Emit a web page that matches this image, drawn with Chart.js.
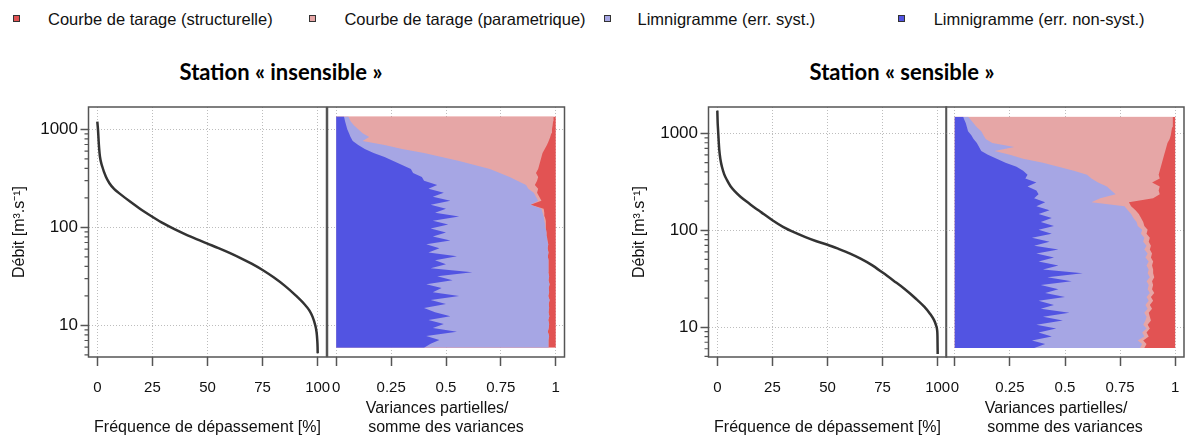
<!DOCTYPE html>
<html lang="fr">
<head>
<meta charset="utf-8">
<title>Variances partielles</title>
<script src="https://cdn.jsdelivr.net/npm/chart.js@4.4.1/dist/chart.umd.min.js"></script>
<style>
  html, body { margin: 0; padding: 0; background: #fff; }
  body { position: relative; width: 1188px; height: 439px; overflow: hidden; font-family: "Liberation Sans", Arial, sans-serif; color: #111; }
  canvas { position: absolute; top: 90px; }
  .key { position: absolute; top: 8.6px; font-size: 16.5px; line-height: 20px; white-space: nowrap; }
  .key span { position: absolute; top: 6px; width: 5px; height: 5px; border: 1px solid #333; }
  .station { position: absolute; top: 59.4px; width: 300px; text-align: center; font: bold 22px/26px Lato, "Open Sans", sans-serif; color: #000; }
</style>
</head>
<body>
<div class="key" style="left:48px"><span style="left:-34.8px;background:#e25353"></span>Courbe de tarage (structurelle)</div>
<div class="key" style="left:344.4px"><span style="left:-35.5px;background:#e6a6a6"></span>Courbe de tarage (parametrique)</div>
<div class="key" style="left:637.5px"><span style="left:-34px;background:#a6a6e4"></span>Limnigramme (err. syst.)</div>
<div class="key" style="left:933.7px"><span style="left:-35.9px;background:#5254e2"></span>Limnigramme (err. non-syst.)</div>

<div class="station" style="left:131px">Station « insensible »</div>
<div class="station" style="left:752px">Station « sensible »</div>

<canvas id="curveIns" width="343" height="349" style="left:0"></canvas>
<canvas id="shareIns" width="254" height="349" style="left:319px"></canvas>
<canvas id="curveSen" width="343" height="349" style="left:620px"></canvas>
<canvas id="shareSen" width="254" height="349" style="left:938px"></canvas>

<script>
const freqTicks = [0, 25, 50, 75, 100];
const shareTicks = [0, 0.25, 0.5, 0.75, 1];
const flowTicks = [10, 100, 1000];
const minorFlowTicks = [5, 6, 7, 8, 9, 20, 30, 40, 50, 60, 70, 80, 90, 200, 300, 400, 500, 600, 700, 800, 900];

const colors = {
  structurelle: "#e25353",
  parametrique: "#e6a6a6",
  syst: "#a6a6e4",
  nonSyst: "#5254e2",
};

// courbes des debits classes
const freqIns = [0, 0.3, 0.7, 1.2, 2.2, 3.9, 5.5, 7.7, 10, 15, 20, 25, 30, 35, 40, 45, 50, 55, 60, 65, 70, 75, 80, 85, 90, 94, 96.2, 97.7, 98.9, 99.5, 99.8, 99.95, 100];
const flowIns = [1200, 1000, 700, 525, 420, 328, 282, 245, 222, 182, 151, 128, 109.5, 95.6, 84.7, 75.8, 68.2, 61.4, 54.9, 48.6, 42.6, 36.7, 30.9, 25.4, 20.2, 16.4, 14.2, 12.2, 10, 8.5, 7.1, 6, 5.2];
const freqSen = [0, 0.15, 0.3, 0.6, 0.9, 1.4, 2.1, 3.1, 4.4, 6, 8.2, 10.5, 15, 20, 25, 30, 35, 40, 45, 50, 55, 60, 65, 70, 75, 80, 85, 90, 94, 96.5, 98.3, 99.3, 99.7, 99.9, 100];
const flowSen = [1715, 1300, 1127, 850, 672, 540, 452, 380, 329, 285, 249, 222, 185, 153, 127, 108, 95, 85, 77, 71, 64.3, 57.8, 51, 44, 36.6, 30.2, 24.8, 19.8, 16.2, 13.8, 11.9, 10.4, 9.5, 8, 5.3];

// parts de variance : borne droite cumulee de chaque bande, par niveau de debit
const levelsIns = [5.9, 6.5, 7.1, 7.8, 8.6, 9.4, 10.3, 11.3, 12.4, 13.6, 15, 16.5, 18.1, 19.9, 21.8, 24, 26.3, 28.9, 31.7, 34.8, 38.2, 42, 46, 50.6, 55.5, 61, 67, 73.5, 80.7, 88.6, 97.3, 107, 117, 129, 141, 155, 170, 187, 205, 225, 247, 271, 298, 327, 359, 394, 433, 475, 522, 573, 629, 691, 758, 833, 914, 1004, 1102, 1210, 1350];
const nonSystIns = [0.40, 0.43, 0.47, 0.41, 0.55, 0.44, 0.49, 0.42, 0.52, 0.45, 0.40, 0.50, 0.43, 0.56, 0.44, 0.48, 0.41, 0.53, 0.46, 0.62, 0.43, 0.50, 0.45, 0.55, 0.42, 0.47, 0.41, 0.52, 0.44, 0.50, 0.43, 0.51, 0.44, 0.56, 0.45, 0.50, 0.43, 0.52, 0.44, 0.49, 0.42, 0.46, 0.40, 0.39, 0.35, 0.34, 0.30, 0.26, 0.22, 0.17, 0.13, 0.10, 0.075, 0.065, 0.058, 0.05, 0.045, 0.04, 0.035];
const systIns = [0.965, 0.968, 0.966, 0.97, 0.964, 0.968, 0.97, 0.966, 0.971, 0.967, 0.97, 0.968, 0.972, 0.966, 0.97, 0.968, 0.972, 0.967, 0.97, 0.966, 0.968, 0.965, 0.968, 0.964, 0.967, 0.963, 0.966, 0.962, 0.96, 0.958, 0.955, 0.952, 0.948, 0.945, 0.94, 0.935, 0.885, 0.92, 0.91, 0.9, 0.875, 0.865, 0.825, 0.79, 0.745, 0.70, 0.63, 0.56, 0.48, 0.40, 0.30, 0.22, 0.12, 0.15, 0.12, 0.10, 0.08, 0.065, 0.055];
const paramIns = [0.965, 0.968, 0.966, 0.97, 0.964, 0.968, 0.97, 0.966, 0.971, 0.967, 0.97, 0.968, 0.972, 0.966, 0.97, 0.968, 0.972, 0.967, 0.97, 0.966, 0.968, 0.965, 0.968, 0.964, 0.967, 0.963, 0.966, 0.962, 0.96, 0.958, 0.955, 0.955, 0.955, 0.95, 0.948, 0.945, 0.885, 0.935, 0.925, 0.915, 0.92, 0.905, 0.915, 0.92, 0.91, 0.92, 0.925, 0.93, 0.935, 0.94, 0.95, 0.96, 0.968, 0.975, 0.98, 0.983, 0.986, 0.988, 0.99];

const levelsSen = [6.1, 6.7, 7.3, 8, 8.8, 9.7, 10.6, 11.7, 12.8, 14.1, 15.5, 17, 18.7, 20.5, 22.5, 24.7, 27.2, 29.8, 32.8, 36, 39.5, 43.4, 47.7, 52.4, 57.5, 63.2, 69.4, 76.2, 83.7, 92, 101, 111, 122, 134, 147, 161, 177, 195, 214, 235, 258, 283, 311, 342, 375, 412, 453, 497, 546, 600, 659, 723, 795, 873, 958, 1053, 1156, 1270, 1395, 1486];
const nonSystSen = [0.36, 0.41, 0.35, 0.44, 0.38, 0.46, 0.37, 0.49, 0.40, 0.52, 0.39, 0.45, 0.38, 0.50, 0.41, 0.47, 0.39, 0.53, 0.42, 0.58, 0.40, 0.47, 0.38, 0.45, 0.37, 0.47, 0.36, 0.43, 0.35, 0.44, 0.38, 0.45, 0.39, 0.44, 0.38, 0.43, 0.37, 0.41, 0.36, 0.38, 0.37, 0.33, 0.37, 0.32, 0.33, 0.31, 0.28, 0.23, 0.19, 0.15, 0.12, 0.11, 0.10, 0.085, 0.075, 0.06, 0.055, 0.05, 0.042, 0.038];
const systSen = [0.84, 0.85, 0.83, 0.86, 0.85, 0.87, 0.855, 0.865, 0.87, 0.86, 0.875, 0.865, 0.88, 0.87, 0.885, 0.875, 0.88, 0.87, 0.885, 0.875, 0.88, 0.87, 0.88, 0.865, 0.875, 0.86, 0.87, 0.855, 0.86, 0.845, 0.85, 0.83, 0.825, 0.81, 0.80, 0.785, 0.77, 0.62, 0.66, 0.73, 0.71, 0.69, 0.65, 0.62, 0.60, 0.54, 0.47, 0.40, 0.31, 0.25, 0.18, 0.27, 0.17, 0.14, 0.13, 0.12, 0.10, 0.085, 0.07, 0.06];
const paramSen = [0.86, 0.87, 0.855, 0.88, 0.87, 0.885, 0.875, 0.89, 0.885, 0.88, 0.895, 0.885, 0.90, 0.89, 0.905, 0.895, 0.90, 0.895, 0.905, 0.90, 0.90, 0.895, 0.90, 0.89, 0.895, 0.885, 0.89, 0.88, 0.885, 0.87, 0.875, 0.86, 0.855, 0.845, 0.835, 0.82, 0.80, 0.79, 0.90, 0.93, 0.925, 0.93, 0.895, 0.93, 0.925, 0.93, 0.935, 0.94, 0.945, 0.95, 0.955, 0.96, 0.965, 0.975, 0.98, 0.983, 0.986, 0.988, 0.99, 0.99];

Chart.defaults.font.family = '"Liberation Sans", Arial, sans-serif';
Chart.defaults.color = "#111";

const frame = {
  id: "frame",
  afterDraw(chart) {
    const { ctx, chartArea: a } = chart;
    ctx.save();
    ctx.strokeStyle = "#555";
    ctx.lineWidth = 1.5;
    ctx.strokeRect(a.left, a.top, a.right - a.left, a.bottom - a.top);
    ctx.restore();
  },
};

const minorTicks = {
  id: "minorTicks",
  afterDraw(chart, args, opts) {
    if (!opts.values) return;
    const { ctx, chartArea, scales } = chart;
    const y = scales.y;
    ctx.save();
    ctx.strokeStyle = "#555";
    ctx.lineWidth = 1.2;
    ctx.beginPath();
    opts.values.forEach((v) => {
      if (v < y.min || v > y.max) return;
      const py = y.getPixelForValue(v);
      ctx.moveTo(chartArea.left - 4, py);
      ctx.lineTo(chartArea.left, py);
    });
    ctx.stroke();
    ctx.restore();
  },
};

const grid = { color: "#bdbdbd", lineWidth: 1, tickColor: "#555", tickWidth: 1.5, tickLength: 9 };
const border = { display: false, dash: [1, 2] };
// labels pushed down through the line height, so that ticks.padding stays small
const xTickFont = { size: 15, lineHeight: 2.533 };
const setTicks = (list) => (scale) => {
  scale.ticks = list.map((v) => ({ value: v }));
};

const curveChart = (id, freq, flow, yMin, yMax) =>
  new Chart(document.getElementById(id), {
    type: "line",
    data: {
      datasets: [
        {
          data: freq.map((f, i) => ({ x: f, y: flow[i] })),
          borderColor: "#333",
          borderWidth: 2.5,
          pointRadius: 0,
          cubicInterpolationMode: "monotone",
        },
      ],
    },
    options: {
      responsive: false,
      animation: false,
      layout: { padding: { top: 17, right: 16.5, left: 0, bottom: 0 } },
      plugins: { legend: { display: false }, tooltip: { enabled: false }, minorTicks: { values: minorFlowTicks } },
      scales: {
        x: {
          type: "linear",
          min: -4,
          max: 104,
          afterBuildTicks: setTicks(freqTicks),
          afterFit: (s) => { s.height = 82; },
          grid: grid,
          border: border,
          ticks: { padding: 3, maxRotation: 0, autoSkip: false, font: xTickFont, callback: (v) => String(v) },
          title: { display: true, text: "Fréquence de dépassement [%]", font: { size: 16 }, padding: { top: 0, bottom: 1.4 } },
        },
        y: {
          type: "logarithmic",
          min: yMin,
          max: yMax,
          afterBuildTicks: setTicks(flowTicks),
          afterFit: (s) => { s.width = 88.5; },
          grid: { ...grid, tickLength: 8 },
          border: border,
          ticks: { padding: 2.5, autoSkip: false, font: { size: 17 }, callback: (v) => String(v) },
          title: { display: true, text: "Débit [m³.s⁻¹]", font: { size: 16 }, padding: { top: 10, bottom: 0 } },
        },
      },
    },
    plugins: [frame, minorTicks],
  });

const shareChart = (id, levels, nonSyst, syst, param, yMin, yMax, padLeft, padRight) => {
  const band = (label, bound, color) => ({
    label: label,
    data: levels.map((q, i) => ({ x: bound[i], y: q })),
    backgroundColor: color,
    borderWidth: 0,
    pointRadius: 0,
    tension: 0,
    fill: { value: 0 },
  });
  return new Chart(document.getElementById(id), {
    type: "line",
    data: {
      datasets: [
        band("Limnigramme (err. non-syst.)", nonSyst, colors.nonSyst),
        band("Limnigramme (err. syst.)", syst, colors.syst),
        band("Courbe de tarage (parametrique)", param, colors.parametrique),
        band("Courbe de tarage (structurelle)", levels.map(() => 1), colors.structurelle),
      ],
    },
    options: {
      indexAxis: "y",
      responsive: false,
      animation: false,
      layout: { padding: { top: 17, right: padRight, left: padLeft, bottom: 0 } },
      plugins: { legend: { display: false }, tooltip: { enabled: false } },
      scales: {
        x: {
          type: "linear",
          min: -0.04,
          max: 1.04,
          afterBuildTicks: setTicks(shareTicks),
          afterFit: (s) => { s.height = 82; },
          grid: grid,
          border: border,
          ticks: { padding: 3, maxRotation: 0, autoSkip: false, font: xTickFont, callback: (v) => String(v) },
          title: {
            display: true,
            text: ["Variances partielles/    ", "somme des variances"],
            font: { size: 16, lineHeight: 1.1875 },
            padding: { top: 0, bottom: 1.5 },
          },
        },
        y: {
          type: "logarithmic",
          min: yMin,
          max: yMax,
          afterBuildTicks: setTicks(flowTicks),
          afterFit: (s) => { s.width = 0; },
          grid: { ...grid, drawTicks: false },
          border: border,
          ticks: { display: false },
        },
      },
    },
    plugins: [frame],
  });
};

curveChart("curveIns", freqIns, flowIns, 4.75, 1690);
shareChart("shareIns", levelsIns, nonSystIns, systIns, paramIns, 4.75, 1690, 8.5, 8.5);
curveChart("curveSen", freqSen, flowSen, 4.93, 1870);
shareChart("shareSen", levelsSen, nonSystSen, systSen, paramSen, 4.93, 1870, 8, 8);
</script>
</body>
</html>
